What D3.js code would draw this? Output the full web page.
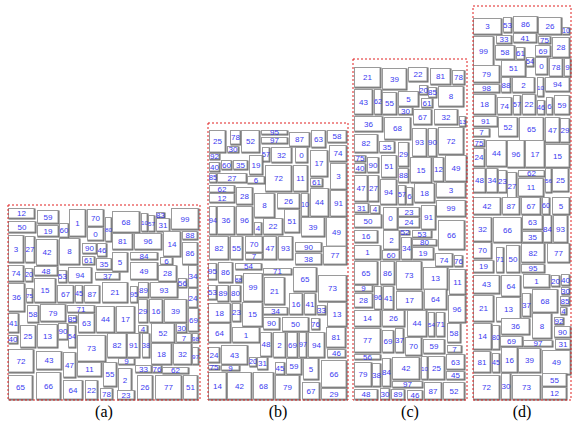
<!DOCTYPE html>
<html><head><meta charset="utf-8">
<script src="https://cdn.jsdelivr.net/npm/d3@7"></script>
<style>body{margin:0;background:#fff}svg{display:block}</style>
</head><body>
<script>
// ---- data: strip packings, each item = [label, x0, x1, bottom, top] in strip units ----
const panelLabels = ["(a)", "(b)", "(c)", "(d)"];
const stripWidths = [192, 140, 114, 98];
const stripHeights = [195, 277, 341, 394];

const rectsA = [
["12",0,27,181,192],["59",29,51,176,190],["50",0,28,167,179],["19",29,51,163,175],["60",51,61,162,177],
["1",61,78,163,191],["70",79,96,173,191],["0",79,96,159,173],["80",97,104,158,183],["68",104,132,167,189],
["10",133,140,168,187],["57",140,147,168,185],["83",148,157,182,188],["31",148,162,168,182],["99",163,191,170,192],
["3",0,16,137,165],["27",17,27,137,164],["42",28,50,134,161],["8",51,72,135,162],["90",74,89,146,157],
["46",89,99,143,157],["61",74,87,135,144],["35",88,104,130,142],["81",104,125,150,167],["96",126,154,150,167],
["14",155,173,143,169],["88",174,190,160,169],["86",174,190,135,158],["5",104,120,128,148],["84",122,150,140,148],
["6",152,165,135,143],["37",87,112,120,128],["49",122,150,120,138],["28",150,169,118,135],["34",180,190,112,135],
["56",170,179,112,122],["74",0,16,118,135],["20",17,25,118,132],["48",26,50,124,134],["53",50,59,117,130],
["94",60,84,117,133],["36",0,17,88,117],["75",18,25,97,112],["15",26,48,97,122],["67",49,66,97,115],
["45",67,75,97,115],["87",76,92,97,115],["21",94,120,97,118],["95",122,130,97,114],["89",130,141,102,118],
["93",142,170,102,118],["24",180,190,92,112],["29",130,140,77,101],["16",141,155,77,101],["39",156,179,77,101],
["69",180,191,68,92],["58",19,31,77,95],["79",32,58,78,96],["71",59,87,87,95],["85",60,69,77,85],
["63",70,87,67,87],["44",88,107,67,94],["17",108,127,67,94],["4",130,140,67,75],["52",143,167,57,77],
["30",168,179,67,77],["7",168,184,57,67],["98",184,191,57,67],["41",0,11,67,87],["40",0,10,56,65],
["25",12,28,52,75],["13",29,50,52,76],["90",50,60,60,77],["54",60,68,52,75],["73",69,98,38,65],
["82",99,119,42,67],["91",119,132,42,67],["38",134,142,42,67],["18",143,164,35,57],["32",165,184,35,57],
["97",184,191,35,53],["72",0,26,27,51],["43",28,54,30,49],["47",55,68,22,48],["11",69,94,23,38],
["55",95,109,13,38],["9",110,127,35,42],["2",110,124,8,32],["33",127,144,27,35],["76",144,154,27,35],
["62",154,181,26,33],["65",0,25,0,25],["66",28,53,0,28],["64",55,75,0,20],["22",77,90,0,20],
["78",92,105,0,12],["23",109,127,0,10],["26",129,145,0,25],["77",147,174,0,25],["51",175,190,0,25]
];

const rectsB = [
["25",1,18,247,270],["78",22,33,255,270],["30",19,31,247,254],["52",33,52,247,270],["95",53,80,265,270],
["97",53,80,256,263],["87",81,102,253,268],["63",103,118,252,270],["58",119,139,257,270],["74",121,139,238,255],
["57",54,62,238,253],["32",63,84,237,253],["0",87,100,237,253],["17",102,120,223,250],["3",122,139,210,237],
["92",1,12,240,247],["40",1,12,228,238],["60",13,24,230,240],["35",25,40,230,240],["19",41,55,225,245],
["72",57,84,208,235],["11",85,100,208,235],["61",102,115,213,222],["85",1,9,217,227],["27",9,39,217,227],
["6",39,57,216,224],["62",1,27,207,215],["12",1,27,197,207],["28",28,45,195,213],["8",46,67,182,207],
["26",69,92,191,207],["10",93,101,183,207],["44",102,121,183,212],["91",122,139,183,210],["94",1,9,165,194],
["36",9,27,165,194],["96",28,45,165,194],["4",46,54,165,178],["22",55,75,165,182],["51",76,92,167,191],
["39",93,117,163,183],["49",118,139,153,183],["82",1,21,140,164],["55",22,35,140,164],["70",37,55,147,164],
["7",37,55,140,147],["47",55,69,140,164],["93",70,85,140,164],["90",87,114,148,158],["38",87,114,135,147],
["77",115,139,135,154],["95",0,9,120,137],["86",10,25,117,138],["54",27,54,130,137],["88",27,34,117,125],
["99",35,55,98,127],["71",55,84,125,132],["21",56,77,95,123],["65",85,109,108,133],["73",110,139,98,125],
["53",0,9,100,115],["89",9,21,98,115],["80",22,33,98,115],["16",81,95,85,107],["41",96,108,85,107],
["33",109,118,85,95],["13",119,139,73,98],["18",0,23,77,97],["23",24,33,78,97],["15",34,55,73,98],
["34",55,80,85,93],["90",55,72,70,83],["50",74,101,68,83],["76",103,112,70,82],["64",0,23,57,77],
["1",24,52,57,73],["48",52,64,43,68],["2",65,78,42,68],["69",79,90,42,68],["97",91,99,42,68],
["94",100,117,42,68],["81",118,138,52,73],["46",119,138,42,51],["24",0,12,37,53],["43",13,40,35,55],
["20",41,49,33,43],["31",49,60,30,43],["45",67,77,25,38],["59",78,94,25,42],["5",95,111,20,42],
["66",113,139,12,40],["75",0,12,30,35],["9",13,32,29,35],["14",0,19,0,28],["42",19,44,0,28],
["68",45,66,0,28],["79",67,92,0,25],["67",94,112,0,18],["29",113,139,0,12]
];

const rectsC = [
["21",1,28,312,333],["39",29,54,310,332],["22",55,75,318,333],["81",77,98,315,332],["78",99,112,315,330],
["20",66,75,305,315],["85",75,84,302,313],["8",85,111,293,314],["43",1,20,285,311],["62",21,29,285,311],
["55",29,44,285,308],["5",45,66,293,309],["30",45,60,285,293],["61",68,80,292,302],["67",60,79,275,291],
["32",81,105,275,291],["13",106,113,273,284],["36",1,30,268,284],["68",31,58,260,283],["82",1,25,247,266],
["35",26,42,247,259],["93",59,74,243,272],["90",75,84,243,272],["72",85,111,245,273],["29",45,56,233,258],
["75",1,13,238,245],["40",1,13,227,237],["90",14,26,227,243],["51",28,44,222,245],["15",57,79,217,243],
["12",80,91,218,243],["49",92,114,218,245],["88",45,56,217,232],["47",1,15,198,225],["27",15,26,198,225],
["94",27,44,195,221],["57",45,53,195,215],["6",53,60,195,213],["18",61,82,197,217],["3",83,113,202,218],
["99",83,113,183,200],["31",1,16,187,197],["4",17,27,186,195],["50",1,29,172,186],["0",30,45,170,193],
["23",45,67,183,193],["24",45,67,172,183],["91",68,83,170,195],["16",1,25,157,170],["2",30,47,150,170],
["52",47,57,165,170],["53",59,79,162,170],["66",85,112,150,180],["34",48,59,140,163],["80",59,84,154,161],
["19",59,81,140,153],["1",1,28,140,155],["60",29,47,140,150],["74",82,100,133,147],["76",101,110,133,145],
["65",1,25,115,139],["86",27,42,115,139],["73",43,69,110,139],["13",70,95,110,133],["11",96,113,105,131],
["9",1,20,108,115],["28",1,20,92,107],["96",21,29,90,114],["41",30,41,90,114],["17",43,70,90,109],
["64",71,94,90,111],["96",95,113,77,105],["14",1,28,73,90],["26",29,52,73,90],["44",54,74,63,90],
["54",75,82,63,88],["71",83,92,63,88],["58",94,108,57,77],["77",1,28,47,72],["69",29,41,47,70],
["37",42,51,47,72],["70",52,69,44,63],["59",70,92,46,61],["7",94,109,47,55],["56",1,28,40,46],
["79",1,19,13,38],["38",19,28,13,37],["84",29,38,13,42],["42",39,67,20,43],["10",68,75,20,44],
["25",75,92,20,44],["63",93,112,30,46],["45",93,112,20,29],["97",39,70,12,19],["48",1,25,0,11],
["30",27,37,0,12],["89",38,52,0,11],["46",54,70,0,10],["87",71,89,0,18],["52",90,112,0,18]
];

const rectsD = [
["3",0,29,365,382],["53",30,39,367,383],["86",40,65,367,384],["26",65,89,365,383],["10",89,97,365,373],
["33",23,39,356,365],["41",40,64,357,367],["75",65,78,356,364],["28",79,97,342,363],["99",0,21,333,364],
["58",22,42,340,355],["61",43,52,340,353],["69",62,78,343,355],["54",53,61,333,343],["51",28,53,323,340],
["0",62,75,325,343],["78",76,90,323,342],["9",91,98,323,342],["79",0,27,317,335],["98",0,27,307,316],
["88",28,38,307,323],["2",39,62,307,323],["10",64,71,303,323],["94",72,97,308,323],["18",0,23,285,306],
["74",24,39,285,303],["57",40,48,285,305],["22",49,63,285,306],["46",64,72,285,300],["6",73,80,285,303],
["59",81,97,285,305],["91",0,25,273,284],["7",0,17,263,272],["52",25,45,263,283],["65",46,71,258,283],
["47",72,87,257,283],["29",87,97,257,282],["75",0,12,253,261],["24",0,12,233,252],["44",13,34,233,260],
["96",34,52,232,260],["17",52,72,232,260],["15",72,97,232,256],["48",0,13,207,232],["34",13,25,207,232],
["23",25,34,207,230],["27",34,44,200,228],["62",45,72,223,230],["11",45,71,203,222],["56",72,79,207,232],
["25",79,96,208,232],["42",0,28,185,203],["87",29,47,185,203],["67",48,68,185,203],["60",69,77,185,203],
["5",79,97,185,203],["32",0,19,158,183],["66",20,49,157,183],["63",49,70,170,185],["35",49,70,157,169],
["84",70,79,157,185],["93",80,95,157,185],["70",0,19,141,158],["71",23,31,127,153],["50",33,47,127,155],
["82",48,72,137,157],["77",74,97,137,157],["19",0,21,127,140],["95",48,72,127,136],["43",0,27,106,125],
["64",28,48,103,125],["1",50,77,112,126],["20",78,87,113,125],["40",88,97,114,126],["30",88,97,105,113],
["21",0,21,78,105],["13",23,48,78,103],["37",49,58,83,107],["68",59,85,87,111],["85",87,97,94,104],
["4",87,94,85,93],["8",59,79,61,87],["92",81,91,75,83],["90",81,98,62,74],["14",0,19,50,77],
["80",19,27,50,75],["36",28,57,65,82],["69",27,50,53,64],["97",50,80,53,60],["31",82,98,50,61],
["81",0,18,27,49],["45",19,27,27,47],["16",28,45,27,53],["39",45,68,27,52],["49",69,98,25,50],
["72",0,27,0,25],["30",28,38,0,27],["73",39,68,0,25],["55",69,94,13,27],["12",69,94,0,13]
];

const panelRects = [rectsA, rectsB, rectsC, rectsD];

// ---- layout (pixels) ----
const W = 573, H = 423;
const floorY = 400;
const lefts = [8, 208, 353, 473];

const svg = d3.select("body").append("svg").attr("width", W).attr("height", H);
svg.append("rect").attr("width", W).attr("height", H).attr("fill", "#fff");

panelRects.forEach((rects, i) => {
  const x = d3.scaleLinear().domain([0, stripWidths[i]]).range([lefts[i], lefts[i] + stripWidths[i]]);
  const y = d3.scaleLinear().domain([0, stripHeights[i]]).range([floorY, floorY - stripHeights[i]]);
  const g = svg.append("g");

  const items = g.selectAll("g.item").data(rects).join("g").attr("class", "item");
  // shadow (darker right/bottom edge)
  items.append("rect")
    .attr("x", d => x(d[1]) + 0.5).attr("y", d => y(d[4]) + 0.5)
    .attr("width", d => x(d[2]) - x(d[1])).attr("height", d => y(d[3]) - y(d[4]))
    .attr("fill", "#666");
  items.append("rect")
    .attr("x", d => x(d[1]) + 0.5).attr("y", d => y(d[4]) + 0.5)
    .attr("width", d => Math.max(1, x(d[2]) - x(d[1]) - 1.5)).attr("height", d => Math.max(1, y(d[3]) - y(d[4]) - 1.5))
    .attr("fill", "#fff").attr("stroke", "#9a9a9a").attr("stroke-width", 1);
  items.append("text")
    .attr("x", d => (x(d[1]) + x(d[2])) / 2)
    .attr("y", d => (y(d[3]) + y(d[4])) / 2)
    .attr("text-anchor", "middle").attr("dominant-baseline", "central")
    .attr("font-family", "Liberation Sans, Arial, sans-serif")
    .attr("font-size", d => {
      const w = x(d[2]) - x(d[1]);
      return Math.min(8, Math.max(6, w / (d[0].length * 0.56)));
    })
    .attr("fill", "#3a3af0")
    .text(d => d[0]);

  // dashed strip border
  g.append("rect")
    .attr("x", x(0)).attr("y", y(stripHeights[i]))
    .attr("width", x(stripWidths[i]) - x(0)).attr("height", y(0) - y(stripHeights[i]))
    .attr("fill", "none").attr("stroke", "#e02020").attr("stroke-width", 1)
    .attr("stroke-dasharray", "2,2");

  svg.append("text")
    .attr("x", (x(0) + x(stripWidths[i])) / 2).attr("y", 417)
    .attr("text-anchor", "middle")
    .attr("font-family", "Liberation Serif, Times New Roman, serif").attr("font-size", 16)
    .attr("fill", "#000")
    .text(panelLabels[i]);
});
</script>
</body></html>
